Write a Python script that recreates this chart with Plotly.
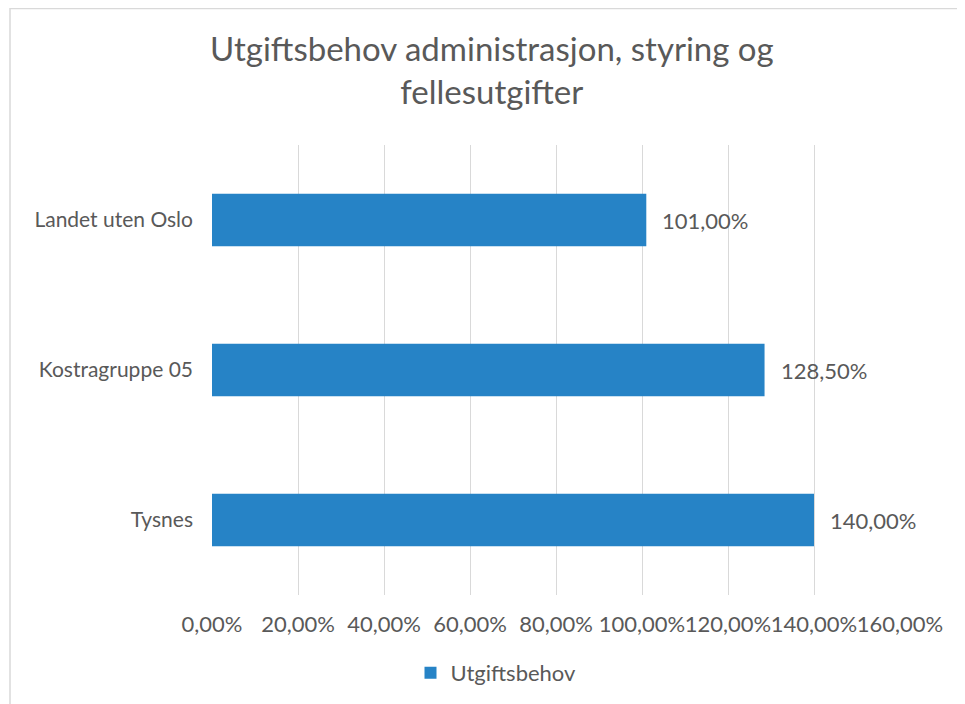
import plotly.graph_objects as go

categories = ["Tysnes", "Kostragruppe 05", "Landet uten Oslo"]
values = [1.40, 1.285, 1.01]
series_name = "Utgiftsbehov"
title_text = "Utgiftsbehov administrasjon, styring og<br>fellesutgifter"

OFF = 8  # page body offset
W, H = 965, 704
ML, MT = 212 - OFF, 145 - OFF
PW, PH = 688, 450
MR = W - ML - PW
MB = H - MT - PH

def px_x(p):
    return (p - OFF - ML) / PW

def px_y(p):
    return (MT + PH - (p - OFF)) / PH

FONT = "Lato"
GREY = "#595959"
BAR = "#2683C6"

fig = go.Figure()
fig.add_trace(go.Bar(
    y=categories, x=values, orientation="h", name=series_name,
    marker=dict(color=BAR, line=dict(width=0)),
    width=0.35, showlegend=True,
))

for c, v in zip(categories, values):
    fig.add_annotation(
        x=v, y=c, xref="x", yref="y",
        text=f"{v*100:.2f}%".replace(".", ","),
        showarrow=False, xanchor="left", yanchor="middle", xshift=14,
        font=dict(family=FONT, size=22, color=GREY),
    )

# chart title
fig.add_annotation(
    x=px_x(492), y=px_y(69), xref="paper", yref="paper",
    text=title_text, showarrow=False, xanchor="center", yanchor="middle",
    align="center", font=dict(family=FONT, size=33, color=GREY),
)

fig.add_shape(type="rect", xref="paper", yref="paper",
              x0=px_x(10), x1=px_x(1000), y0=px_y(8.5), y1=px_y(740),
              line=dict(color="#d9d9d9", width=1.5), fillcolor="rgba(0,0,0,0)", layer="below")

fig.update_layout(
    width=W, height=H,
    margin=dict(l=ML, r=MR, t=MT, b=MB, autoexpand=False),
    paper_bgcolor="white", plot_bgcolor="white",
    separators=",.",
    xaxis=dict(range=[0, 1.6], dtick=0.2, tick0=0, tickformat=".2%", tickangle=0,
               showgrid=True, gridcolor="#d9d9d9", gridwidth=1.3,
               zeroline=False, showline=False, ticks="",
               ticklabelstandoff=14,
               tickfont=dict(family=FONT, size=22, color=GREY)),
    yaxis=dict(range=[-0.5, 2.5], showgrid=False, zeroline=False, showline=False,
               ticks="", ticklabelstandoff=18,
               tickfont=dict(family=FONT, size=21, color=GREY)),
    legend=dict(orientation="h", x=px_x(496), xanchor="center", y=px_y(673), yanchor="middle",
                font=dict(family=FONT, size=22, color=GREY), itemwidth=30),
    bargap=0.65,
)

fig.write_html("out.html")
